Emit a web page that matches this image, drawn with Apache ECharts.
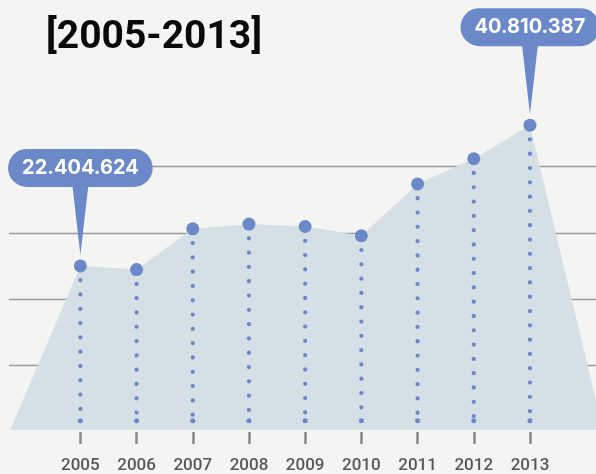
<!DOCTYPE html>
<html>
<head>
<meta charset="utf-8">
<style>
  html, body { margin: 0; padding: 0; background: #f4f4f2; }
  #chart { width: 596px; height: 474px; }
</style>
<script src="https://cdn.jsdelivr.net/npm/echarts@6/dist/echarts.min.js"></script>
</head>
<body>
<div id="chart"></div>
<script>
// ---- data ----
const years = [2005, 2006, 2007, 2008, 2009, 2010, 2011, 2012, 2013];
const values = [22404624, 21920000, 27260000, 27880000, 27560000, 26350000, 33120000, 36420000, 40810387];
const calloutYears = [2005, 2013];
const titleText = '[2005-2013]';
// area edges (where the shaded shape meets the baseline)
const edgeYears = [2003.75, 2014.3];
const areaBase = 950000;
// value-axis range / gridline step
const yMin = 690000;
const yInterval = 8675000;
const yMax = yMin + 4 * yInterval;
const xMin = 2003.73;
const xMax = 2014.175;

const blue = '#6b88c8';
const fmt = v => String(v).replace(/\B(?=(\d{3})+(?!\d))/g, '.');

const pts = years.map((y, i) => [y, values[i]]);
const areaData = [[edgeYears[0], areaBase]].concat(pts, [[edgeYears[1], areaBase]]);
const calloutPts = pts.filter(p => calloutYears.indexOf(p[0]) >= 0);

const chart = echarts.init(document.getElementById('chart'));
chart.setOption({
  backgroundColor: '#f4f4f2',
  animation: false,
  title: {
    text: titleText,
    left: 41, top: 14,
    textStyle: { fontFamily: 'Roboto', fontWeight: 'bold', fontSize: 39, color: '#0a0a0a' }
  },
  grid: { left: 9, right: 0, top: 166.6, bottom: 41 },
  xAxis: {
    type: 'value', min: xMin, max: xMax,
    axisLine: { show: false },
    splitLine: { show: false },
    axisTick: { show: true, customValues: years, length: 12, lineStyle: { color: '#888', width: 2.5 } },
    axisLabel: {
      show: true, customValues: years, margin: 25,
      formatter: v => String(Math.round(v)),
      fontFamily: 'Roboto', fontWeight: 500, fontSize: 17, color: '#585858'
    }
  },
  yAxis: {
    type: 'value', min: yMin, max: yMax, interval: yInterval,
    axisLine: { show: false }, axisTick: { show: false }, axisLabel: { show: false },
    splitLine: { show: true, lineStyle: { color: ['rgba(0,0,0,0)', '#9a9a9a', '#9a9a9a', '#9a9a9a', '#9a9a9a'], width: 1.3 } }
  },
  series: [
    {
      type: 'line', data: areaData, showSymbol: false, clip: false, z: 2,
      lineStyle: { width: 0 },
      areaStyle: { color: '#d4dfe6', opacity: 1, origin: areaBase },
      silent: true
    },
    {
      type: 'custom', z: 3, clip: false,
      data: pts,
      renderItem: function (params, api) {
        const p = api.coord([api.value(0), api.value(1)]);
        const base = api.coord([api.value(0), yMin])[1] - 11.3;
        return {
          type: 'group',
          children: [
            { type: 'line', shape: { x1: p[0], y1: p[1], x2: p[0], y2: base },
              style: { stroke: blue, lineWidth: 4.3, lineDash: [0, 14.3], lineCap: 'round', fill: null } },
            { type: 'circle', shape: { cx: p[0], cy: base, r: 2.5 }, style: { fill: blue } }
          ]
        };
      }
    },
    {
      type: 'custom', z: 4, clip: false,
      data: calloutPts,
      renderItem: function (params, api) {
        const p = api.coord([api.value(0), api.value(1)]);
        return {
          type: 'polygon',
          shape: { points: [[p[0] - 8, p[1] - 81], [p[0] + 8, p[1] - 81], [p[0], p[1] - 11]] },
          style: { fill: blue }
        };
      }
    },
    {
      type: 'scatter', z: 5, clip: false,
      symbolSize: 13,
      itemStyle: { color: blue, opacity: 1 },
      data: pts.map(p => {
        const item = { value: p };
        if (calloutYears.indexOf(p[0]) >= 0) {
          item.label = {
            show: true, position: 'top', distance: 72.5,
            formatter: fmt(p[1]),
            backgroundColor: blue, borderRadius: 19,
            padding: [8, 14], lineHeight: 22,
            fontFamily: 'Inter', fontWeight: 'bold', fontSize: 20, color: '#fff'
          };
        }
        return item;
      })
    }
  ]
});
</script>
</body>
</html>
